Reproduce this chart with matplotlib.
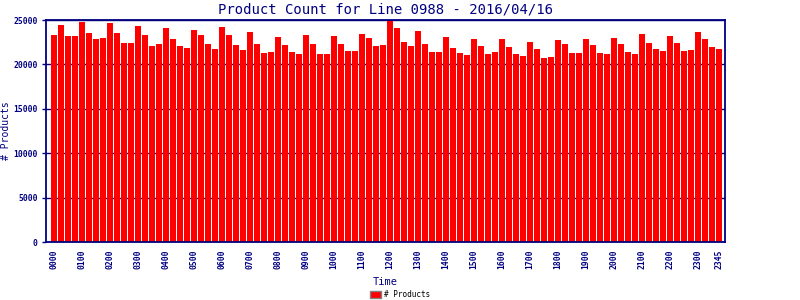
import matplotlib
matplotlib.use("Agg")
from matplotlib import pyplot as plt
from matplotlib.patches import Patch

# 15 minute slots, 0000 .. 2345
times = ["%02d%02d" % (h, m) for h in range(24) for m in (0, 15, 30, 45)]
counts = [
    23295, 24432, 23182, 23182, 24773, 23523, 22841, 22955,
    24659, 23523, 22386, 22386, 24318, 23295, 22045, 22273,
    24091, 22841, 22045, 21818, 23864, 23295, 22273, 21705,
    24205, 23295, 22159, 21591, 23636, 22273, 21250, 21364,
    23068, 22159, 21364, 21136, 23295, 22273, 21136, 21136,
    23182, 22273, 21477, 21477, 23409, 22955, 22045, 22159,
    24950, 24091, 22500, 22045, 23750, 22273, 21364, 21364,
    23068, 21818, 21250, 21023, 22841, 22045, 21136, 21364,
    22841, 21932, 21136, 20909, 22500, 21705, 20682, 20795,
    22727, 22273, 21250, 21250, 22841, 22159, 21250, 21136,
    22955, 22273, 21364, 21136, 23409, 22386, 21705, 21477,
    23182, 22386, 21477, 21591, 23636, 22841, 21932, 21705,
]
tick_labels = ["%02d00" % h for h in range(24)] + ["2345"]

navy = "#000080"
mono = ["DejaVu Sans Mono"]

fig = plt.figure(figsize=(8, 3), dpi=100)
ax = fig.add_axes([0.0575, 0.193, 0.8488, 0.74])

x = list(range(len(times)))
ax.bar(x, counts, width=0.86, color="#ff0000", zorder=2, label="# Products")

ax.set_xlim(-1.14, len(times) - 1 + 0.86)
ax.set_ylim(0, 25000)
ax.set_yticks(range(0, 25001, 5000))
ax.yaxis.grid(True, color=navy, linewidth=1, zorder=0)

tick_pos = [times.index(t) for t in tick_labels]
ax.set_xticks(tick_pos)
ax.set_xticklabels(tick_labels, rotation=90, family=mono, fontsize=5.8,
                   color=navy, fontweight="bold")
for lab in ax.get_yticklabels():
    lab.set_family(mono)
    lab.set_fontsize(5.8)
    lab.set_color(navy)
    lab.set_fontweight("bold")
ax.tick_params(axis="y", color=navy, length=3, width=1, pad=3)
ax.tick_params(axis="x", color=navy, length=0, pad=5)

for s in ax.spines.values():
    s.set_color(navy)
    s.set_linewidth(1.3)

ax.set_title("Product Count for Line 0988 - 2016/04/16", family=mono,
             fontsize=10, color=navy, pad=5)
ax.set_xlabel("Time", family=mono, fontsize=7.5, color=navy)
ax.xaxis.set_label_coords(0.5, -0.158)
ax.set_ylabel("# Products", family=mono, fontsize=7, color=navy)
ax.yaxis.set_label_coords(-0.052, 0.5)

handle = Patch(facecolor="#ff0000", edgecolor="#808080", linewidth=1)
fig.legend([handle], ["# Products"], loc="lower center",
           bbox_to_anchor=(0.5, -0.02), frameon=False,
           prop={"family": mono, "size": 5.5}, handlelength=1.4,
           handleheight=0.9, handletextpad=0.4)

fig.savefig("out.png", dpi=100)
